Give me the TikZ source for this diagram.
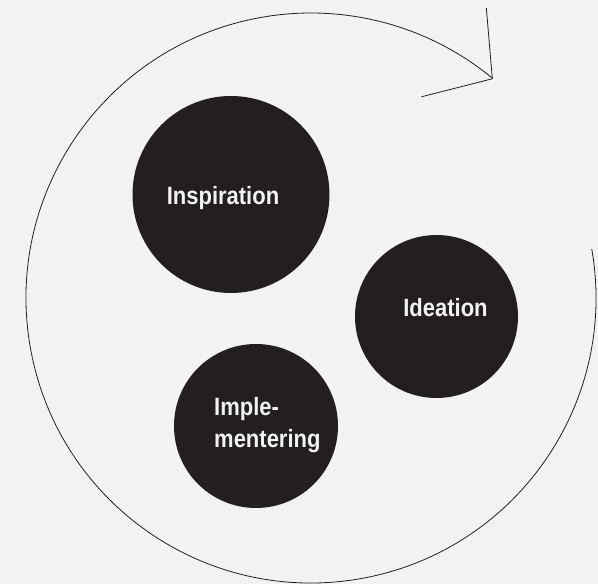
\documentclass[tikz,border=0pt]{standalone}
\usepackage{fontspec}
\newfontfamily\blobfont{Liberation Sans}[FakeStretch=0.88]
\usetikzlibrary{positioning}
\definecolor{paper}{HTML}{F2F2F2}
\definecolor{ink}{HTML}{231F20}
\tikzset{
	blob/.style={circle,fill=ink,inner sep=0pt},
	blobtext/.style={font=\blobfont\bfseries\fontsize{25}{32}\selectfont,text=paper,inner sep=0pt},
	cycleline/.style={draw=ink,line width=0.8pt},
}

\begin{document}
\begin{tikzpicture}[x=1pt,y=1pt]
	\fill[paper] (0,0) rectangle (598,584);
	\useasboundingbox (0,0) rectangle (598,584);
	\path
	(231,389.5) node(insp) [blob,minimum size=197pt] {}
	(436.5,267.5) node(idea) [blob,minimum size=163pt] {}
	(256,158) node(impl) [blob,minimum size=164pt] {}
	(311,286) coordinate(hub);
	\node[blobtext,anchor=base] at ([xshift=-8pt,yshift=-10.5pt]insp.center) {Inspiration};
	\node[blobtext,anchor=base] at ([xshift=9pt,yshift=-0.5pt]idea.center) {Ideation};
	\node[blobtext,anchor=base west,align=left] at ([xshift=-42pt,yshift=-22pt]impl.center) {Imple-\\mentering};
	% cycle arrow round the three phases
	\coordinate (tip) at ([shift={(50.4:284.5)}]hub);
	\path[cycleline,line join=miter]
	([shift={(9.9:285)}]hub) arc[start angle=9.9,end angle=-309.6,radius=285];
	\path[cycleline] (tip) -- +(-6,71) (tip) -- +(-71,-18);
\end{tikzpicture}
\end{document}
